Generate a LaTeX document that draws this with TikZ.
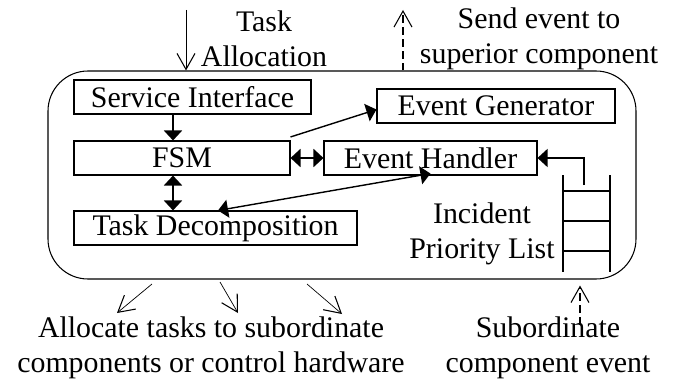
\documentclass[tikz,border=0pt]{standalone}
\usepackage{fontspec}
\setmainfont{Liberation Serif}
\usetikzlibrary{arrows.meta}

\tikzset{
    tri/.tip={Triangle[length=0.2cm,width=0.36cm]},
    barb/.tip={Straight Barb[length=0.32cm,width=0.36cm,line width=0.6pt]},
    blk/.style={draw, line width=0.6pt, inner sep=0pt, minimum height=0.68cm},
    lbl/.style={align=center, inner sep=0pt},
    fat/.style={line width=1.1pt},
    mid/.style={line width=0.8pt},
    dsh/.style={line width=1.4pt, dash pattern=on 4.5pt off 2.3pt}
}

\begin{document}
\begin{tikzpicture}[font=\fontsize{17}{20}\selectfont]
    \useasboundingbox (0,0) rectangle (13.56,-7.62);

    % component outline
    \node[draw, line width=0.6pt, rounded corners=0.8cm, minimum width=11.76cm, minimum height=4.16cm] (comp) at (6.84,-3.5) {};

    \node[blk, minimum width=4.74cm] (si) at (3.85,-1.94) {Service Interface};
    \node[blk, minimum width=4.32cm] (fsm) at (3.64,-3.16) {FSM};
    \node[blk, minimum width=4.76cm] (eg) at (9.92,-2.12) {Event Generator};
    \node[blk, minimum width=4.26cm] (eh) at (8.61,-3.16) {Event Handler};
    \node[blk, minimum width=5.66cm] (td) at (4.31,-4.56) {Task Decomposition};

    \node[lbl] (ta) at (5.28,-0.78) {Task\\Allocation};
    \node[lbl] (se) at (10.78,-0.77) {Send event to\\superior component};
    \node[lbl] (ipl) at (9.64,-4.67) {Incident\\Priority List};
    \node[lbl] (at) at (4.22,-6.96) {Allocate tasks to subordinate\\components or control hardware};
    \node[lbl] (sc) at (10.96,-6.96) {Subordinate\\component event};

    % priority list
    \draw[fat] (11.26,-3.5) -- (11.26,-5.44) (12.2,-3.5) -- (12.2,-5.44);
    \foreach \y in {-3.82,-4.42,-5.02}
        \draw[fat] (11.26,\y) -- (12.2,\y);

    \coordinate (ax) at (3.46,0);
    \coordinate (tin) at (3.72,-0.2);
    \coordinate (sout) at (8.06,-0.2);
    \coordinate (sub) at (11.6,-6.5);
    \coordinate (lq) at (11.68,-3.7);

    \draw[thin, -barb] (tin) -- (tin |- comp.north);
    \draw[dsh, -barb] (comp.north -| sout) -- (sout);
    \draw[dsh, -barb] (sub) -- ([yshift=-0.12cm]comp.south -| sub);

    \foreach \sx/\sy/\ex/\ey [count=\i] in {3.04/-5.68/2.34/-6.26, 4.4/-5.64/4.76/-6.26, 6.14/-5.68/6.84/-6.28} {
        \coordinate (o\i) at (\sx,\sy);
        \coordinate (p\i) at (\ex,\ey);
        \draw[thin, -barb] (o\i) -- (p\i);
    }

    \draw[fat, -tri] (si.south -| ax) -- (fsm.north -| ax);
    \draw[fat, tri-tri] (fsm.south -| ax) -- (td.north -| ax);
    \draw[fat, tri-tri] (fsm.east) -- (eh.west);
    \draw[mid, -tri] ([yshift=2pt]fsm.north east) -- ([yshift=-2pt]eg.west);
    \draw[mid, tri-tri] ([xshift=0.05cm]td.north) -- ([yshift=0.04cm]eh.south);
    \draw[mid, -tri] (lq) |- (eh.east);
\end{tikzpicture}
\end{document}
